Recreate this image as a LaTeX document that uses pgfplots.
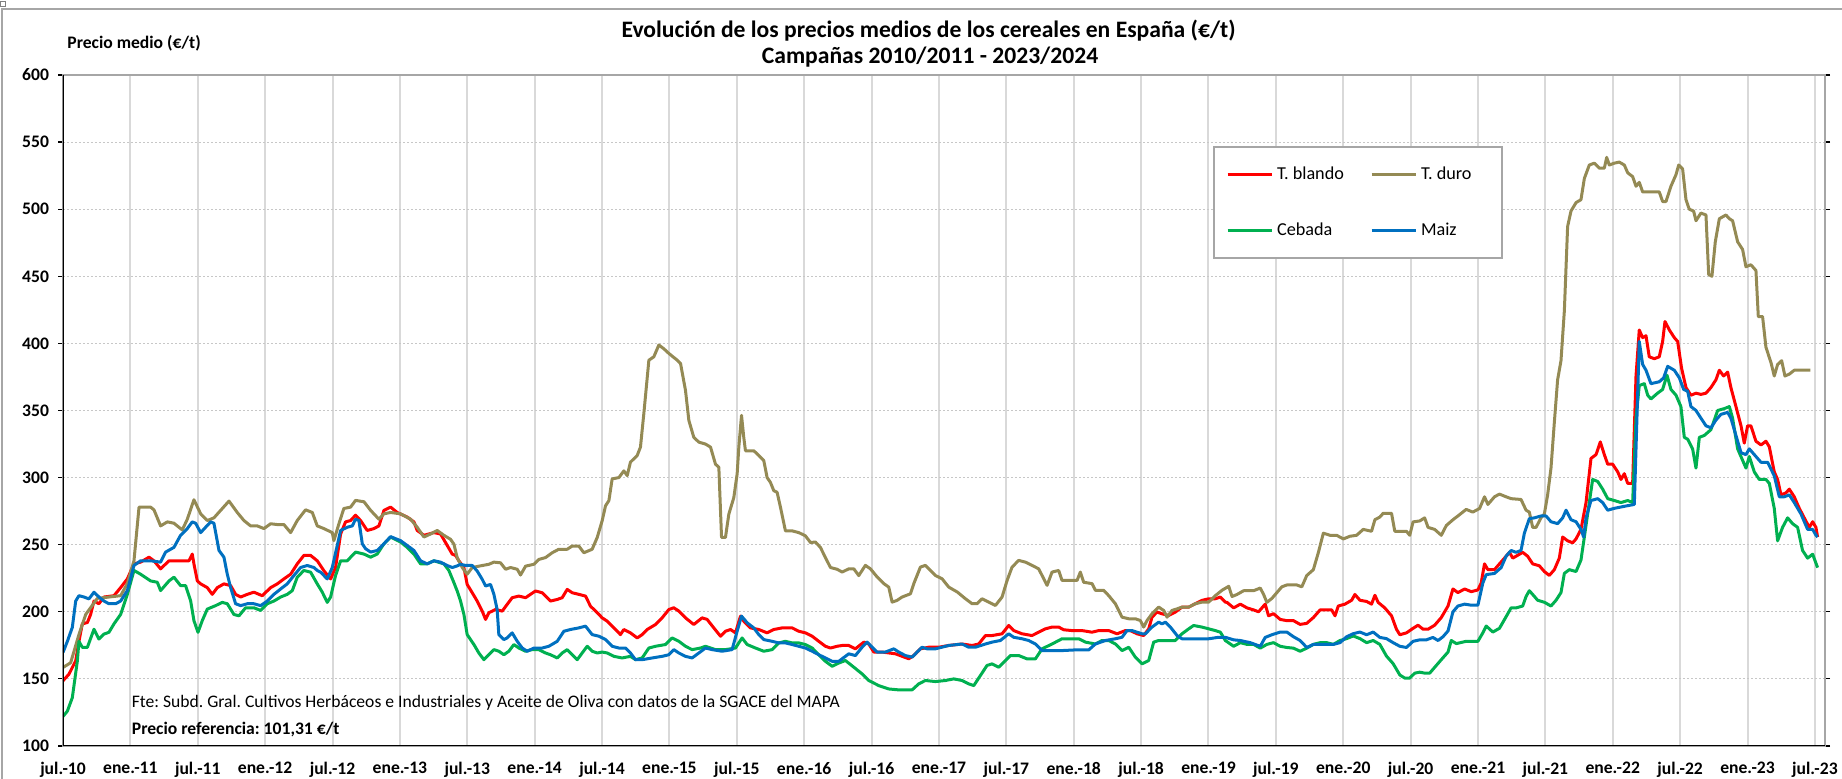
\documentclass[border=0pt]{standalone}
\usepackage{fontspec}
\setmainfont{Carlito}
\usepackage{pgfplots}
\pgfplotsset{compat=1.18}
\frenchspacing
\definecolor{cblando}{RGB}{255,0,0}
\definecolor{cduro}{RGB}{148,138,84}
\definecolor{ccebada}{RGB}{0,176,80}
\definecolor{cmaiz}{RGB}{0,112,192}
\definecolor{frame}{RGB}{166,166,166}
\begin{document}
\begin{tikzpicture}
\path[use as bounding box] (0,0) rectangle (921pt,389.5pt);
\draw[frame, line width=1pt] (1pt,0) -- (1pt,385pt) -- (921pt,385pt);
\draw[gray, line width=0.4pt] (0.3pt,386.5pt) rectangle (2.8pt,389pt);
\begin{axis}[
  at={(31.5pt,16.5pt)}, anchor=south west,
  scale only axis, width=881pt, height=335.5pt,
  xmin=0, xmax=156.9, ymin=100, ymax=600,
  xtick={0,6,...,156},
  xticklabels={jul.-10,ene.-11,jul.-11,ene.-12,jul.-12,ene.-13,jul.-13,ene.-14,jul.-14,ene.-15,jul.-15,ene.-16,jul.-16,ene.-17,jul.-17,ene.-18,jul.-18,ene.-19,jul.-19,ene.-20,jul.-20,ene.-21,jul.-21,ene.-22,jul.-22,ene.-23,jul.-23},
  ytick={100,150,...,600},
  /pgf/number format/assume math mode=true,
  ticklabel style={font=\bfseries\fontsize{8.8}{10}\selectfont},
  xticklabel style={yshift=-2pt},
  yticklabel style={xshift=-1pt},
  xtick style={draw=none},
  ytick style={black, line width=0.6pt},
  tick align=outside, major tick length=2.5pt,
  xmajorgrids, ymajorgrids,
  x grid style={black!15, line width=1pt},
  y grid style={black!22, line width=0.5pt, dashed, dash pattern=on 1pt off 1pt},
  axis line style={frame, line width=1pt},
  legend columns=2,
  legend cell align=left,
  legend image code/.code={\draw[#1] (0pt,0pt) -- (22pt,0pt);},
  legend style={at={(0.6527,0.894)}, anchor=north west, draw=frame, line width=1pt, fill=white,
    inner xsep=6pt, inner ysep=8pt, font=\fontsize{9.1}{10}\selectfont,
    /tikz/every even column/.append style={column sep=11pt}, row sep=16pt},
  every axis plot/.append style={line width=1.5pt, line join=round},
]
\addplot[cblando] coordinates {(0,148.6)(0.53,153.5)(1.13,163.5)(1.42,178)(1.72,191)(2.17,192)(2.46,198)(2.76,208)(3.20,206)(3.65,211)(4.54,212)(5.13,218)(5.73,224.5)(6.32,235.7)(6.91,237)(7.66,240.7)(8.10,238)(8.69,232)(9.44,238)(10.47,238)(11.22,238)(11.51,243)(11.66,235.7)(11.96,223)(12.26,220.8)(12.85,218)(13.29,213)(13.74,218)(14.33,220.8)(14.93,219.5)(15.37,213)(15.82,211)(16.41,213)(17.00,214.6)(17.74,212)(18.49,218)(19.08,220.8)(19.67,224.5)(20.27,228)(20.86,235.7)(21.45,242)(22.05,242)(22.64,238)(23.23,230.6)(23.83,224.5)(24.27,233)(24.72,258)(25.16,267)(25.61,268)(26.05,272)(26.50,268)(27.09,260.6)(27.69,262)(28.13,264)(28.58,275.6)(29.17,278)(29.76,274)(30.65,270.6)(31.25,267)(31.54,260.6)(32.14,257)(33.03,259)(33.62,258)(34.66,243)(34.96,242)(35.25,238)(35.70,233)(35.99,220.4)(36.44,214.2)(36.88,208)(37.33,200.5)(37.63,194.3)(37.92,199.3)(38.52,201.7)(39.11,200.5)(39.55,205.5)(40.00,210.5)(40.59,211.7)(41.19,210.5)(41.63,213)(42.08,215.5)(42.67,214.2)(42.97,211.7)(43.41,208)(44.01,209.2)(44.45,210.5)(44.90,216.7)(45.34,214.2)(45.93,213)(46.53,211.7)(46.97,204.2)(47.57,199.3)(48.01,195.5)(48.46,193)(49.05,188)(49.64,183)(49.94,186.8)(50.53,184.3)(51.13,180.5)(51.57,183)(52.02,186.8)(52.76,190.5)(53.35,195.5)(53.95,201.7)(54.39,203)(54.84,200.5)(55.43,195.5)(56.17,190.5)(56.91,195.5)(57.36,194.3)(57.95,188)(58.55,181.8)(58.99,185.5)(59.44,186.8)(59.88,184.3)(60.33,196.8)(60.62,193)(61.21,188)(61.96,186.8)(62.70,184.3)(63.29,186.8)(64.04,188)(64.93,188)(65.52,185.5)(66.11,184.3)(66.71,181.8)(67.30,178)(67.89,174.3)(68.34,173)(68.93,174.3)(69.38,174.9)(69.97,174.9)(70.56,172.4)(71.31,177.4)(71.75,176)(72.20,170)(72.94,170)(74.12,168.7)(75.31,165)(75.76,167.4)(76.35,172.4)(77.09,173.6)(77.98,173.6)(78.87,174.9)(80.06,176)(80.95,174.9)(81.54,176)(82.14,182.3)(82.73,182.3)(83.62,183.6)(84.21,189.8)(84.66,186)(85.40,183.6)(86.29,182.3)(86.88,184.8)(87.48,187.3)(88.07,188.6)(88.66,188.6)(89.11,186.6)(89.85,186)(90.74,186)(91.63,184.8)(92.23,186)(93.12,186)(93.86,183.6)(94.60,186)(95.04,186)(95.64,183.6)(96.23,182.3)(96.68,187.3)(96.97,196)(97.42,199.8)(97.86,198.5)(98.46,197.3)(99.05,199.8)(99.64,203.5)(100.24,203.5)(100.83,206)(101.42,208.5)(102.02,209.7)(102.61,209.7)(103.06,211)(103.50,207.2)(103.65,207)(104.24,202.9)(104.84,205.7)(105.43,202.9)(106.02,201.4)(106.46,200)(107.05,205.7)(107.35,197)(107.79,198.6)(108.39,194.3)(108.98,193.4)(109.57,193.4)(110.16,190.6)(110.75,191.4)(111.34,195.7)(111.94,201.4)(112.53,201.4)(112.97,201.4)(113.27,197)(113.56,204.3)(114.15,205.7)(114.75,208.6)(115.04,212.9)(115.49,208.6)(116.08,207.7)(116.52,205.7)(116.82,212.3)(117.11,207)(117.70,202.9)(118.30,197)(118.74,187)(119.04,182.9)(119.63,184.3)(120.22,187.7)(120.66,190)(121.11,187)(121.55,187)(122.14,190)(122.73,195.7)(123.33,204.3)(123.77,217)(124.21,214.3)(124.81,217)(125.40,215)(125.99,216.3)(126.28,221.4)(126.58,235.7)(126.88,231.4)(127.47,231.4)(127.91,235.7)(128.36,240)(128.80,244.3)(129.10,240)(129.98,244.3)(130.42,241.4)(130.87,235.7)(131.46,234.3)(131.91,230)(132.35,227.1)(132.80,231.4)(133.24,240)(133.54,255.7)(133.98,252.9)(134.43,251.4)(134.73,254.3)(135.17,261.4)(135.62,281.4)(136.06,314.3)(136.51,317.1)(136.89,326.6)(137.25,317.1)(137.55,310)(137.99,310)(138.44,304.3)(138.73,298.6)(139.03,302.9)(139.33,295.7)(139.77,295.7)(140.07,375.7)(140.36,410)(140.66,404.3)(140.96,405.7)(141.25,390)(141.70,388.6)(142.14,390)(142.44,401.4)(142.65,416.3)(143.04,410)(143.48,404.3)(143.78,401.4)(144.13,381.4)(144.52,367.1)(144.96,361.4)(145.41,362.9)(145.85,362)(146.30,362.9)(146.74,367.1)(147.19,372.9)(147.49,380)(147.87,375.7)(148.23,378.6)(148.52,367.1)(148.97,352.9)(149.42,338.6)(149.71,325.7)(150.01,338.6)(150.30,338.6)(150.75,327.1)(151.20,324.3)(151.64,327.1)(151.94,322.9)(152.38,304.3)(152.68,298.6)(152.98,287.1)(153.42,288.6)(153.72,291.4)(154.16,285.7)(154.61,277.1)(155.05,270)(155.50,262.9)(155.80,267.1)(156.09,262.9)(156.24,255.7)};
\addlegendentry{T. blando}
\addplot[cduro] coordinates {(0,158.5)(0.68,162)(1.42,183)(2.02,198)(3.06,210)(5.13,212)(5.73,221)(6.32,238)(6.77,278)(7.80,278)(8.10,276)(8.69,264)(9.29,267)(9.88,266)(10.62,261)(11.07,269)(11.66,283.5)(12.26,273)(12.85,268)(13.44,270)(14.04,275.6)(14.78,282.5)(15.52,274)(16.11,268)(16.71,264)(17.30,264)(17.89,262)(18.49,265.6)(19.08,265)(19.67,265)(20.27,259)(20.86,268)(21.60,276)(22.20,274)(22.64,264)(23.23,262)(23.98,259)(24.12,253)(24.57,265.6)(25.01,277)(25.61,278)(26.05,283)(26.80,282)(27.39,275.6)(28.13,269)(28.58,273)(29.17,274)(30.06,273)(30.95,269)(31.54,263)(32.14,255.7)(32.73,258)(33.32,260.6)(33.92,257)(34.51,254)(34.81,250.4)(35.10,240.4)(35.55,233)(35.99,228)(36.44,233)(37.03,234)(37.92,235.4)(38.37,237)(38.96,236.5)(39.41,231.7)(39.85,233)(40.45,231.7)(40.74,227.4)(41.19,234)(41.93,235.4)(42.37,239)(42.97,240.4)(43.56,244)(44.15,246.6)(44.90,246.6)(45.34,249)(45.93,249)(46.38,244)(47.12,246.6)(47.57,255.4)(48.01,267.8)(48.31,279)(48.61,282.8)(48.90,299)(49.50,300)(49.94,305)(50.24,301.5)(50.53,311.5)(51.13,316.5)(51.42,322.7)(51.72,347.6)(52.17,387.5)(52.61,390)(53.06,398.8)(53.50,396)(53.95,392.5)(54.69,387.5)(54.99,385)(55.43,365)(55.73,342.6)(56.17,330)(56.62,326.4)(57.21,325)(57.66,322.7)(58.10,310)(58.40,307.7)(58.64,255.4)(58.99,255.4)(59.29,272.8)(59.73,285)(60.03,302.7)(60.18,322.7)(60.42,346.4)(60.62,330)(60.77,320)(61.51,320)(61.96,316.5)(62.40,312.7)(62.70,300)(62.99,296.5)(63.29,290.3)(63.59,289)(63.89,277.8)(64.33,260.3)(64.93,260.3)(65.52,259)(66.11,256.6)(66.56,251.6)(67.00,252)(67.45,247.9)(67.89,240.4)(68.34,233)(68.93,231.7)(69.38,229.6)(69.97,232)(70.42,232)(70.86,227)(71.45,234.6)(71.90,232)(72.49,226)(73.09,221)(73.53,218.4)(73.83,207.2)(74.27,208.5)(74.72,211)(75.46,213.4)(75.76,221)(76.35,233.3)(76.79,234.6)(77.24,230.8)(77.69,227)(78.28,224.6)(78.87,218.4)(79.64,214.7)(80.36,209.7)(80.95,206)(81.39,206)(81.84,209.7)(82.43,207.2)(83.03,204.7)(83.62,211)(84.07,223.4)(84.51,233.3)(85.10,238.3)(85.70,237)(86.29,234.6)(86.88,232)(87.63,219.7)(88.07,229.6)(88.66,230.8)(88.96,223.4)(89.70,223.4)(90.30,223.4)(90.59,229.6)(90.89,222)(91.63,221)(91.93,216)(92.67,216)(93.12,212)(93.71,206)(94.30,196)(94.90,194.8)(95.49,194.8)(95.93,193.5)(96.23,188.6)(96.53,193.5)(96.97,198.5)(97.57,203.5)(98.01,201)(98.31,196)(98.75,201)(99.20,202.2)(99.64,203.5)(100.24,203.5)(100.83,206)(101.42,207.2)(102.02,207.2)(102.61,212)(103.20,216)(103.80,219)(104.10,211.4)(104.54,212.9)(105.13,215.7)(106.02,215.7)(106.61,217.7)(106.91,212.9)(107.20,207)(107.65,210)(108.09,214.3)(108.53,218.6)(108.98,220)(109.86,220)(110.31,218.6)(110.75,227)(111.34,231.4)(111.79,244.3)(112.23,258.6)(112.82,257)(113.41,257)(114.01,254.3)(114.60,256.3)(115.19,257)(115.78,261.4)(116.52,260)(116.82,268.6)(117.26,270.6)(117.56,273.4)(118.30,273.4)(118.59,260)(119.63,260)(119.92,257)(120.22,267)(120.81,267.7)(121.25,270)(121.55,262.9)(122.14,261.4)(122.73,257)(123.18,264.3)(123.77,268.6)(124.21,271.4)(124.95,276.3)(125.54,274.3)(126.14,277)(126.58,285.7)(126.88,280)(127.47,285.7)(127.91,287.7)(128.50,285.7)(128.95,284.3)(129.83,283.7)(130.28,275.7)(130.57,274.3)(130.87,262.9)(131.17,262.9)(131.61,270)(131.91,272.9)(132.20,287.1)(132.50,307.1)(132.80,341.4)(133.09,372.9)(133.39,387.1)(133.69,424.3)(133.98,487.1)(134.28,498.6)(134.73,504.9)(135.17,507.1)(135.47,522.9)(135.91,532.9)(136.36,534.3)(136.80,530.6)(137.25,530.6)(137.46,538.6)(137.69,532.9)(138.14,534.3)(138.58,535.1)(139.03,532.9)(139.33,527.1)(139.77,524.3)(140.07,517.1)(140.36,520)(140.66,512.9)(141.40,512.9)(142.14,512.9)(142.44,505.7)(142.74,505.7)(143.18,517.1)(143.63,525.7)(143.87,532.9)(144.22,530)(144.52,507.1)(144.81,500)(145.20,498.6)(145.41,491.4)(145.85,497.1)(146.30,495.7)(146.54,451.4)(146.83,450)(147.13,475.7)(147.49,492.9)(148.08,495.7)(148.38,492.9)(148.67,491.4)(149.12,475.7)(149.56,470)(149.86,457.1)(150.30,458.6)(150.75,454.3)(150.96,420)(151.34,420)(151.64,397.1)(152.09,385.7)(152.38,375.7)(152.68,384.3)(153.04,387.1)(153.33,375.7)(153.72,377.1)(154.16,380)(154.76,380)(155.59,380)};
\addlegendentry{T. duro\hspace*{7pt}}
\addplot[ccebada] coordinates {(0,122)(0.39,126)(0.83,136)(1.28,163.5)(1.42,178)(1.72,173.5)(2.17,173.5)(2.76,187)(3.20,179.7)(3.65,183.4)(4.09,184.7)(4.54,191)(5.13,198)(5.73,213)(6.32,230.8)(6.91,228)(7.80,223)(8.40,222)(8.69,215.8)(9.44,223)(9.88,225.8)(10.47,219.5)(10.92,219.5)(11.37,208)(11.66,193.4)(12.02,184.7)(12.40,193.4)(12.85,202)(13.59,204.6)(14.18,207)(14.63,206)(15.22,198)(15.67,197)(16.26,203)(17.00,203)(17.60,201)(18.19,206)(18.78,208)(19.38,211)(19.97,213)(20.42,215.8)(20.86,225.8)(21.45,230.8)(22.05,229.5)(22.64,220.8)(23.09,214.6)(23.53,207)(23.83,211)(24.27,227)(24.72,238)(25.31,238)(26.05,244.5)(26.80,243)(27.39,240.7)(27.98,243)(28.58,250.7)(29.17,255.7)(30.06,252)(30.65,248)(31.25,243)(31.84,235.7)(32.43,235.7)(33.03,238)(33.92,235.7)(34.36,230.8)(34.81,221.7)(35.10,215.5)(35.40,208)(35.70,198)(35.99,183)(36.29,179.3)(36.59,175.6)(37.03,169.3)(37.48,164.3)(37.92,168)(38.37,171.8)(38.81,170.6)(39.26,168)(39.70,170.6)(40.15,175.6)(40.59,173)(41.19,170.6)(41.78,171.8)(42.37,171.8)(42.97,169.3)(43.41,168)(44.01,165.6)(44.45,169.3)(44.90,171.8)(45.34,168)(45.79,164.3)(46.23,169.3)(46.68,174.3)(47.12,170.6)(47.57,169.3)(48.01,170)(48.46,169.3)(49.05,166.8)(49.79,165.6)(50.53,166.8)(50.98,164.3)(51.57,165.6)(52.17,173)(52.76,174.3)(53.65,175.6)(54.24,180.5)(54.84,178)(55.43,174.3)(56.02,171.8)(56.77,173)(57.21,174.3)(58.10,171.8)(58.99,171.8)(59.88,173)(60.47,180.5)(60.92,175.6)(61.66,173)(62.40,170.6)(63.15,171.8)(63.74,176.8)(64.33,178)(64.93,176.8)(65.52,176.8)(66.11,175.6)(66.71,173)(67.30,168)(67.89,163.1)(68.49,159.4)(69.08,161.8)(69.67,163.7)(70.42,158.7)(71.16,153.7)(71.75,148.8)(72.64,145)(73.53,142.5)(74.42,141.8)(75.61,141.8)(76.20,146.3)(76.79,148.8)(77.69,148)(78.58,148.8)(79.32,150)(80.06,148.8)(80.65,146.3)(81.10,145)(81.69,152.5)(82.28,160)(82.73,161.2)(83.32,158.7)(83.92,163.7)(84.36,167.4)(85.10,167.4)(85.85,164.9)(86.59,164.9)(87.18,172.4)(88.07,176)(88.96,179.9)(89.85,179.9)(90.45,179.9)(91.04,177.4)(91.93,176)(92.52,178.6)(93.12,178.6)(93.71,176)(94.30,171.1)(94.90,173.6)(95.49,166.2)(96.08,161.2)(96.68,163.7)(97.12,177.4)(97.57,178.6)(98.16,178.6)(99.05,178.6)(99.64,183.6)(100.24,187.3)(100.68,189.8)(101.42,188.6)(102.02,187.3)(102.61,186)(103.06,184.8)(103.50,178.6)(104.24,174.3)(104.84,177)(105.43,175.7)(106.02,175.7)(106.61,172.9)(107.20,175.7)(107.79,177)(108.39,174.3)(108.98,173.4)(109.57,172.9)(110.16,170.6)(110.75,172.9)(111.34,175.7)(111.94,177)(112.53,177)(113.12,175.7)(113.71,178.6)(114.30,180)(114.89,182)(115.49,180)(116.08,177)(116.67,178.6)(117.26,175.7)(117.85,167)(118.44,161.4)(119.04,152.9)(119.48,150.6)(119.92,150.6)(120.37,154.3)(120.81,155)(121.25,154.3)(121.70,154.3)(122.14,158.6)(122.73,164.3)(123.33,170)(123.62,178.6)(124.07,176.3)(124.95,178)(125.99,178)(126.43,184.3)(126.73,189.4)(127.32,184.9)(127.91,187.7)(128.50,196.3)(128.95,203)(129.39,202.9)(129.98,204.3)(130.28,211.4)(130.57,215.7)(130.87,212.9)(131.31,208.6)(131.91,207.1)(132.50,204.3)(132.95,208.6)(133.39,214.3)(133.69,228.6)(134.13,231.4)(134.73,230)(135.17,238.6)(135.47,255.7)(135.91,281.4)(136.21,298.6)(136.66,297.1)(137.10,291.4)(137.55,284.3)(138.14,282.9)(138.73,281.4)(139.33,282.9)(139.77,281.4)(140.07,344.3)(140.36,368.6)(140.81,370)(141.11,361.4)(141.40,358.6)(141.99,362.9)(142.44,365.7)(142.83,376.3)(143.18,365.7)(143.63,361.4)(144.07,352.9)(144.37,330)(144.67,328.6)(145.11,321.4)(145.41,307.1)(145.71,330)(146.15,331.4)(146.74,335.7)(147.34,350)(147.93,351.4)(148.38,352.9)(148.67,344.3)(149.12,321.4)(149.56,312.9)(149.86,307.1)(150.16,315.7)(150.60,304.3)(151.05,298.6)(151.64,298.6)(151.94,295.7)(152.38,277.1)(152.68,252.9)(153.12,262.9)(153.57,270)(154.01,265.7)(154.46,262.9)(154.90,245.7)(155.35,240)(155.80,242.9)(156.24,232.9)};
\addlegendentry{Cebada}
\addplot[cmaiz] coordinates {(0,169.7)(0.39,178)(0.83,188.4)(1.13,208)(1.42,212)(1.87,211)(2.31,209.6)(2.76,214.6)(3.20,211)(3.65,208)(4.09,206)(4.69,206)(5.13,208)(5.73,215.8)(6.32,234.5)(6.91,238)(7.80,238)(8.69,237)(9.14,244.5)(9.88,248)(10.47,257)(11.07,262)(11.51,267)(11.81,266)(12.26,259)(12.70,263)(13.15,267)(13.44,266)(13.89,245.7)(14.33,240.7)(14.63,228)(14.93,218)(15.37,206)(15.82,204.6)(16.41,206)(17.00,206)(17.60,204.6)(18.19,208)(18.78,213)(19.38,217)(19.97,220.8)(20.56,227)(21.16,233)(21.75,234.5)(22.34,233)(22.64,230.8)(22.94,229.5)(23.53,224.5)(23.98,233)(24.72,260.6)(25.31,263)(25.76,264)(26.05,269)(26.35,268)(26.65,250.7)(26.94,247)(27.39,244.5)(27.98,245.7)(28.58,250.7)(29.17,256)(30.06,253)(30.65,249.4)(31.25,245.7)(31.84,238)(32.43,235.7)(33.03,238)(33.62,237)(34.21,234.5)(34.66,233)(35.10,234.2)(35.40,235.4)(35.85,234.5)(36.44,234.5)(36.88,230.4)(37.33,224.2)(37.63,219.2)(38.07,220.4)(38.37,213)(38.66,201.7)(38.81,183)(39.26,179.3)(39.55,180.5)(40.00,184.3)(40.45,178)(40.89,173)(41.34,170.6)(41.93,173)(42.67,173)(43.26,174.3)(44.01,178)(44.60,185.5)(45.19,186.8)(45.93,188)(46.53,189.3)(47.12,183)(47.72,181.8)(48.31,179.3)(48.90,174.3)(49.50,173)(50.09,173)(50.53,169.3)(50.98,164.3)(51.57,164.3)(52.46,165.6)(53.35,166.8)(53.95,168)(54.39,171.8)(54.84,169.3)(55.43,166.8)(56.02,165.6)(56.62,169.3)(57.21,173)(57.80,171.8)(58.69,170.6)(59.58,171.8)(60.03,185.5)(60.42,196.8)(60.92,191.8)(61.51,188)(61.96,183)(62.40,179.3)(63.15,178)(63.74,176.8)(64.33,176.8)(64.93,175.6)(65.52,174.3)(66.11,173)(66.71,170.6)(67.30,168)(67.89,165.6)(68.49,163.1)(69.08,163.1)(69.38,165)(69.97,168.7)(70.56,167.4)(71.16,173.6)(71.60,177.4)(72.05,173.6)(72.49,170)(73.23,170)(73.98,172.4)(74.42,170)(75.01,167.4)(75.61,166.2)(76.05,170)(76.50,173.6)(76.94,172.4)(77.69,172.4)(78.87,174.9)(80.06,176)(80.65,173.6)(81.25,173.6)(82.14,176)(82.73,177.4)(83.47,178.6)(84.21,183.6)(84.66,181)(85.40,179.9)(85.99,178.6)(86.59,176)(87.18,171.1)(87.77,171.1)(88.96,171.1)(90.15,171.6)(91.34,171.6)(91.93,176)(92.82,178.6)(93.71,179.9)(94.30,181)(94.75,186)(95.19,186)(95.64,184.8)(96.08,183.6)(96.38,183.6)(96.97,188.6)(97.57,192.3)(97.86,191)(98.16,192.3)(98.61,188.6)(99.20,182.3)(99.64,179.9)(100.83,179.9)(102.02,179.9)(102.91,181)(103.50,181)(104.24,179.1)(104.84,178.6)(105.72,177)(106.61,174.3)(107.05,180.9)(107.65,182.9)(108.39,184.9)(108.98,184.9)(109.57,181.4)(110.16,178.6)(110.75,173.4)(111.34,175.7)(111.94,175.7)(112.53,175.7)(113.12,175.7)(113.71,177)(114.30,181.4)(114.89,183.7)(115.49,184.9)(116.08,182.9)(116.67,184.9)(117.26,180.9)(117.85,180)(118.44,177)(119.04,174.3)(119.63,173.4)(120.22,178)(120.81,179.1)(121.40,179.1)(121.99,180.9)(122.44,178.6)(122.88,181.4)(123.33,185.7)(123.77,200)(124.21,204.3)(124.81,205.7)(125.40,204.9)(125.99,204.9)(126.43,221.4)(126.73,227.7)(127.47,228.6)(128.06,232.9)(128.50,241.4)(128.95,245.7)(129.39,244.3)(129.83,245.7)(130.13,258.6)(130.57,269.4)(131.02,270)(131.61,271.4)(132.06,271.4)(132.50,267.1)(133.09,265.7)(133.54,270)(133.84,275.7)(134.28,268.6)(134.73,267.1)(135.17,261.4)(135.41,255.7)(135.62,270)(136.06,282.9)(136.66,284.3)(137.10,281.4)(137.55,275.7)(138.14,277.1)(139.03,278.6)(139.92,280)(140.36,401.4)(140.66,384.3)(140.96,380)(141.40,370)(142.14,371.4)(142.53,374.3)(142.89,382.9)(143.48,380)(143.93,374.3)(144.31,365.7)(144.67,364.3)(144.96,352.9)(145.41,350)(145.85,344.3)(146.30,338.6)(146.74,337.1)(147.19,342.9)(147.63,347.1)(148.23,348.6)(148.52,344.3)(148.97,331.4)(149.42,318.6)(149.86,317.1)(150.16,321.4)(150.75,315.7)(151.20,311.4)(151.79,311.4)(152.38,301.4)(152.83,285.7)(153.27,285.7)(153.72,287.1)(154.16,281.4)(154.76,272.9)(155.35,261.4)(155.80,261.4)(156.09,257.1)(156.24,255.7)};
\addlegendentry{Maiz}
\draw[black, line width=1pt] (rel axis cs:0,1) -- (rel axis cs:0,0) -- (rel axis cs:1,0);
\node[anchor=west, font=\fontsize{8.8}{10}\selectfont, inner sep=0pt] at (axis cs:6.1,132.5) {Fte: Subd. Gral. Cultivos Herbáceos e Industriales y Aceite de Oliva con datos de la SGACE del MAPA};
\node[anchor=west, font=\bfseries\fontsize{8.8}{10}\selectfont, inner sep=0pt] at (axis cs:6.1,112.5) {Precio referencia: 101,31 €/t};
\end{axis}
\node[font=\bfseries\fontsize{11.8}{13}\selectfont, inner sep=0pt] at (464.3pt,374.3pt) {Evolución de los precios medios de los cereales en España (€/t)};
\node[font=\bfseries\fontsize{11.8}{13}\selectfont, inner sep=0pt] at (465pt,360.8pt) {Campañas 2010/2011 - 2023/2024};
\node[anchor=west, font=\bfseries\fontsize{8.8}{10}\selectfont, inner sep=0pt] at (33.5pt,367.8pt) {Precio medio (€/t)};
\end{tikzpicture}
\end{document}
